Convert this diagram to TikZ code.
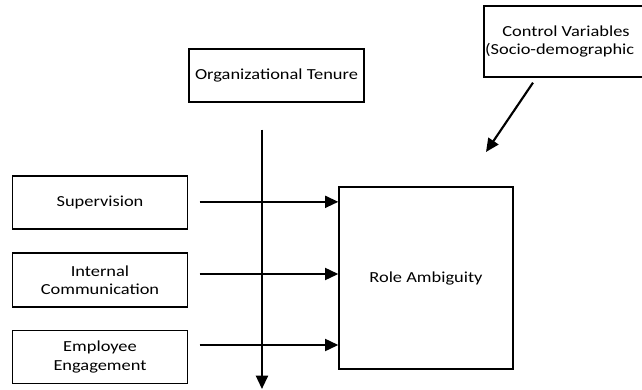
\documentclass[tikz,border=0pt]{standalone}
\usepackage{fontspec}
\setmainfont{Carlito}[FakeStretch=1.2]
\usetikzlibrary{arrows.meta}

\begin{document}
\begin{tikzpicture}[x=0.75pt, y=-0.75pt, font=\fontsize{11.5}{13.8}\selectfont,
        box/.style={draw, line width=1pt, align=center, inner sep=0pt,
                minimum width=131.25pt, minimum height=39.75pt},
        link/.style={line width=1.6pt, -{Triangle[length=10pt, width=9pt]}}]
        \useasboundingbox (0, 0) rectangle (642, 389);
        \begin{scope}
        \clip (0, 0) rectangle (642, 389);
        % boxes
        \node[box] (tenure) at (276.5, 75.5) {Organizational Tenure};
        \node[box, minimum width=123pt, minimum height=53.25pt] (control) at (566, 41.5)
                {Control Variables\\(Socio-demographic\hphantom{s)}};
        \node[box] (superv) at (100, 202.5) {Supervision};
        \node[box, minimum height=40.5pt] (intcom) at (100, 280) {Internal\\Communication};
        \node[box] (engage) at (100, 357) {Employee\\Engagement};
        \node[box, minimum width=130.5pt, minimum height=136.5pt] (role) at (426, 278) {Role Ambiguity};
        \end{scope}
        % arrows into role ambiguity
        \coordinate (s1) at ([xshift=8.5pt, yshift=0.5pt]superv.east);
        \coordinate (s2) at ([xshift=8.5pt, yshift=4.5pt]intcom.east);
        \coordinate (s3) at ([xshift=8.5pt, yshift=9pt]engage.east);
        \draw[link] (s1) -- (s1 -| role.west);
        \draw[link] (s2) -- (s2 -| role.west);
        \draw[link] (s3) -- (s3 -| role.west);
        % moderator line
        \coordinate (mtop) at ([xshift=-10.9pt, yshift=-20.25pt]tenure.south);
        \coordinate (mend) at (mtop |- 0, 389);
        \draw[link] (mtop) -- (mend);
        % control variables
        \coordinate (cstart) at ([xshift=-24.75pt, yshift=-3.75pt]control.south);
        \coordinate (cend) at (486, 152);
        \draw[link] (cstart) -- (cend);
\end{tikzpicture}
\end{document}
